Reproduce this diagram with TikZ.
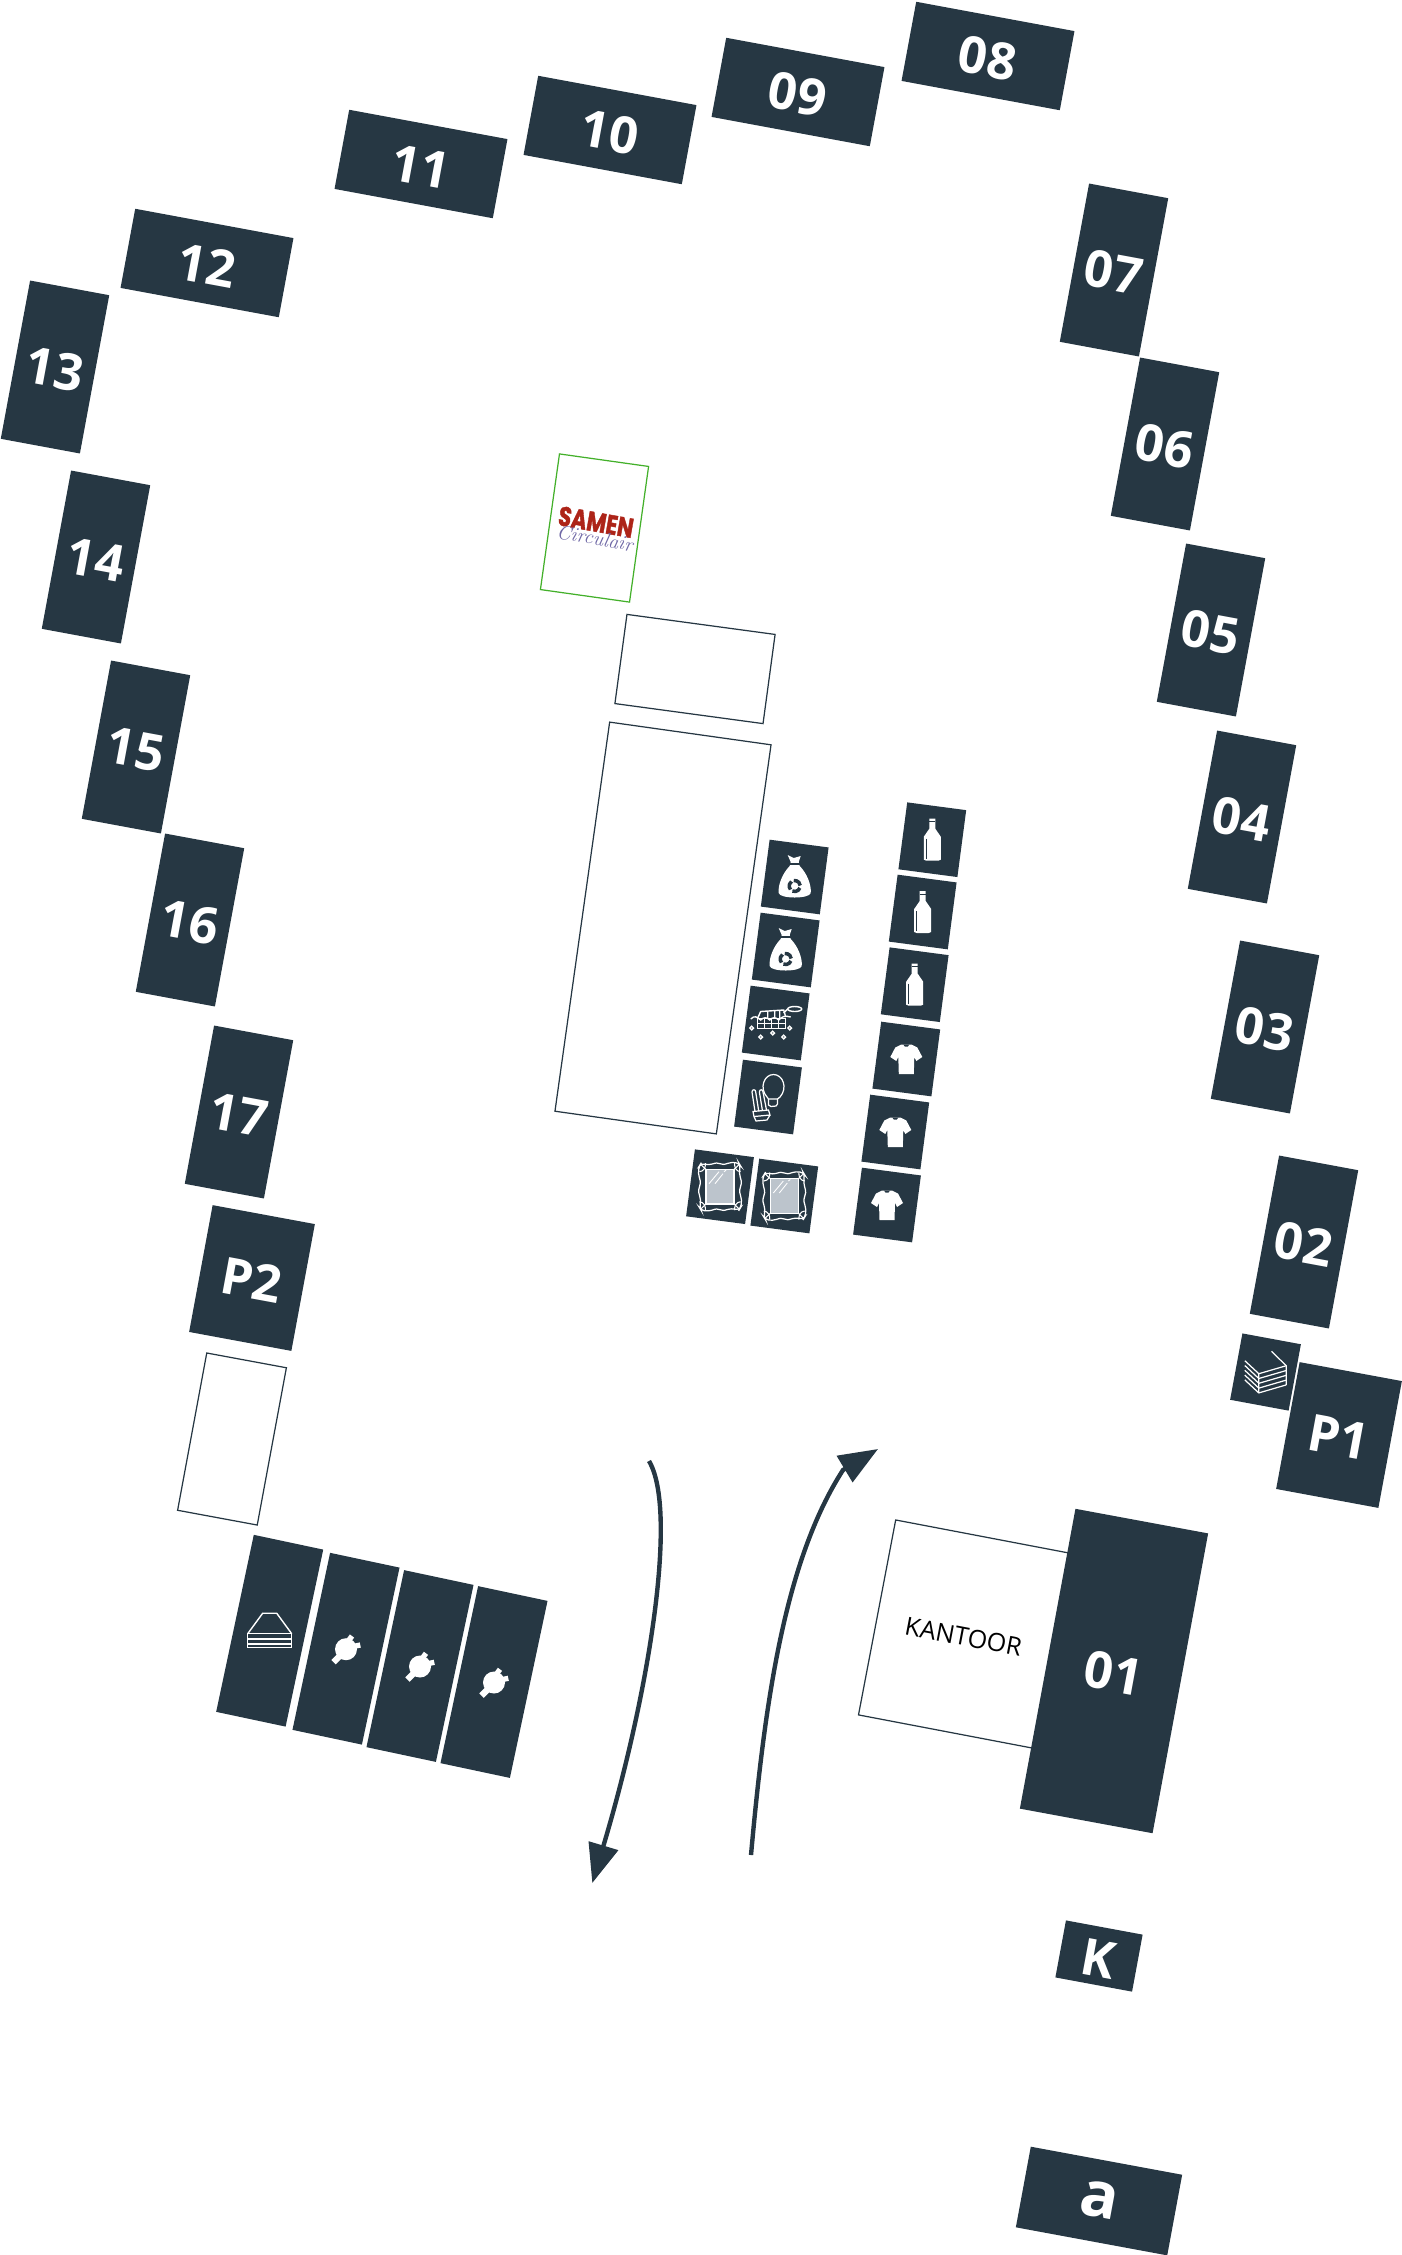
\documentclass[tikz,border=0pt]{standalone}
\usepackage{fontspec}
\newfontfamily\stallfont{Open Sans}
\newfontfamily\logofont{Poppins}[BoldFeatures={FakeBold=1.6}]
\usetikzlibrary{arrows.meta}
\definecolor{stallBlue}{HTML}{263743}
\definecolor{logoRed}{HTML}{AD2418}
\definecolor{logoBlue}{HTML}{6F68A6}
\definecolor{logoGreen}{HTML}{43B02A}
\definecolor{mirrorGray}{HTML}{BCC4CC}
\tikzset{
	stallH/.style={fill=stallBlue, text=white, rotate=-10.5, inner sep=0pt, minimum width=3.22cm, minimum height=1.61cm, text height=0.83cm, font=\stallfont\bfseries\fontsize{29}{29}\selectfont},
	stallV/.style={stallH, minimum width=1.61cm, minimum height=3.22cm},
	stallP/.style={stallH, minimum width=2.08cm, minimum height=2.58cm},
	stallTall/.style={fill=stallBlue, rotate=-12, inner sep=0pt, minimum width=1.42cm, minimum height=3.62cm},
	iconBox/.style={fill=stallBlue, rotate=-7.5, inner sep=0pt, minimum width=1.19cm, minimum height=1.35cm},
	emptyBox/.style={draw=stallBlue, fill=white, line width=0.7pt, inner sep=0pt},
	flowArrow/.style={stallBlue, line width=2.5pt, -{Triangle[length=0.78cm, width=0.6cm]}}
}
\tikzset{
	bottleIcon/.pic={
		\fill[white] (-3,-21) -- (3,-21) -- (3,-11) -- (8.5,-3) -- (8.5,20) -- (6,21) -- (-6,21) -- (-8.5,20) -- (-8.5,-3) -- (-3,-11) -- cycle;
		\draw[stallBlue, line width=0.5pt] (-6,-1) -- (-6,19);
		\draw[stallBlue, line width=0.5pt] (-3,-18) -- (3,-18);
	}
}
\tikzset{
	shirtIcon/.pic={
		\fill[white] (-5,-14.5) -- (5,-14.5) -- (11,-11.5) -- (16,-2) -- (10,2) -- (8,-2) -- (7.5,15) -- (-7.5,15) -- (-8,-2) -- (-10,2) -- (-16,-2) -- (-11,-11.5) -- cycle;
		\fill[stallBlue] (-3,-14.5) -- (3,-14.5) -- (1.5,-12.5) -- (-1.5,-12.5) -- cycle;
	}
}
\tikzset{
	bagIcon/.pic={
		\fill[white] (-7,-22) -- (-1,-19) -- (6,-21) -- (4,-15) -- (5,-11) .. controls (12,-4) and (17,8) .. (16,16) .. controls (15,22) and (-15,22) .. (-16,16) .. controls (-17,8) and (-12,-4) .. (-5,-11) -- (-4,-15) -- cycle;
		\draw[stallBlue, line width=0.6pt] (-5,-13) -- (5,-13);
		\foreach \a in {20,140,260}{
			\draw[stallBlue, line width=2pt] ({5.5*cos(\a)},{9+5.5*sin(\a)}) arc[start angle=\a, end angle=\a+95, radius=5.5];
		}
	}
}
\tikzset{
	mirrorIcon/.pic={
		\fill[mirrorGray] (-14,-17.3) rectangle (14,17.3);
		\draw[white, line width=0.7pt] (-14,-17.3) rectangle (14,17.3);
		\draw[white, line width=0.7pt, rounded corners=2pt] (-19,-23.5) .. controls (-10,-21) and (-5,-24) .. (0,-23) .. controls (5,-22) and (10,-25) .. (19,-23.5) -- (20.5,-21) .. controls (18.5,-12) and (22,-6) .. (20.5,0) .. controls (19,6) and (22.5,12) .. (20.5,21) -- (19,23.5) .. controls (10,21) and (5,24) .. (0,23) .. controls (-5,22) and (-10,25) .. (-19,23.5) -- (-20.5,21) .. controls (-18.5,12) and (-22,6) .. (-20.5,0) .. controls (-19,-6) and (-22.5,-12) .. (-20.5,-21) -- cycle;
		\foreach \p/\q in {-1/-1,1/-1,1/1,-1/1}{
			\draw[white, line width=0.6pt] ({\p*14},{\q*17.3}) -- ({\p*19.5},{\q*22.5});
			\draw[white, line width=0.6pt] ({\p*20.5},{\q*15}) .. controls ({\p*16},{\q*15.5}) and ({\p*14.5},{\q*19}) .. ({\p*14.5},{\q*23.5});
		}
		\draw[white, line width=0.5pt] (-11,-3) -- (-1,-15) (-5,-3) -- (3,-13) (4,-15) -- (6,-16.5);
	}
}
\tikzset{
	fryerIcon/.pic={
		\draw[white, line width=0.8pt] (-18,-4.7) rectangle (10,5.3) (-18,0.3) -- (10,0.3) (-11,-4.7) -- (-11,5.3) (-4,-4.7) -- (-4,5.3) (3,-4.7) -- (3,5.3);
		\draw[white, line width=0.8pt] (-25,-4) .. controls (-21,-8) and (-19,-6) .. (-15,-3) .. controls (-12,-6) and (-9,-6) .. (-6,-3) .. controls (-3,-6) and (0,-6) .. (3,-3) .. controls (6,-6) and (9,-8) .. (15,-6);
		\draw[white, line width=0.8pt] (-18,-5) -- (-15,-11.5) -- (8,-13) -- (10,-6) (-8,-11.5) -- (-8,-5) (-1,-12) -- (-1,-5) (4,-12.5) -- (4,-5);
		\draw[white, line width=0.8pt] (8,-10) -- (12,-14);
		\draw[white, line width=0.8pt] (19,-14) ellipse (7 and 2.5);
		\foreach \p/\q in {-24/5,14/5,-15/14,-3/10,8/14}{
			\draw[white, line width=0.8pt] (\p,\q) circle (1.8);
		}
	}
}
\tikzset{
	bulbIcon/.pic={
		\draw[white, line width=0.7pt] (-1,0) .. controls (-9,-9) and (-4,-22.5) .. (5.5,-22.5) .. controls (15,-22.5) and (20,-9) .. (12,0) -- (9.5,2) -- (0.5,2) -- cycle;
		\draw[white, line width=0.7pt] (0.5,2) -- (0.5,8) -- (3,9.5) -- (8,9) -- (9.5,7) -- (9.5,2);
		\draw[white, line width=0.7pt] (-16,-5) .. controls (-16,-8) and (-12.3,-8) .. (-12.3,-5) -- (-9.3,14);
		\draw[white, line width=0.7pt] (-8.6,-5) .. controls (-8.6,-8) and (-5,-8) .. (-5,-5) -- (-1.5,13);
		\draw[white, line width=0.7pt] (-16,-5) -- (-13,14.5) (-8.6,-5) -- (-5.6,13.5);
		\draw[white, line width=0.7pt] (-15,14.5) -- (0.5,13) -- (2,18) -- (-14,19.5) -- cycle;
		\draw[white, line width=0.7pt] (-14,19.5) -- (-12,24) -- (-1,23) -- (2,18);
	}
}
\tikzset{
	plugIcon/.pic={
		\fill[white] (0,0.5) circle (11);
		\draw[white, line width=3pt] (1,-6) -- (6,-12.7) (6,-2) -- (14.3,-3.7);
		\draw[white, line width=3.6pt] (-6,7) -- (-12.5,13.5);
	}
}
\tikzset{
	mattressIcon/.pic={
		\draw[white, line width=0.8pt] (-22,3) -- (-7,-17.5) -- (7,-17.5) -- (22,3);
		\draw[white, line width=0.8pt] (-22,3) rectangle (22,17);
		\draw[white, line width=1.2pt] (-22,8) -- (22,8) (-22,13) -- (22,13);
	}
}
\tikzset{
	stackIcon/.pic={
		\foreach \d in {0,4.8,9.6,14.4,19.2}{
			\draw[white, line width=0.7pt] (-20.7,-11.3+\d) -- (-6.7,1.7+\d) -- (20.7,-6.3+\d);
		}
		\draw[white, line width=0.7pt] (6,-20.7) -- (20.7,-6.3) -- (20.7,12.9) (-6.7,1.7) -- (-6.7,20.9);
	}
}

\begin{document}
\begin{tikzpicture}[x=0.02cm, y=-0.02cm]
	\useasboundingbox (0,0) rectangle (1402,2255);

	% kraampjes rondom
	\node[stallH] (stall08) at (988,56) {08};
	\node[stallH] (stall09) at (798,92) {09};
	\node[stallH] (stall10) at (610,130) {10};
	\node[stallH] (stall11) at (421,164) {11};
	\node[stallH] (stall12) at (207,263) {12};
	\node[stallV] (stall13) at (55,367) {13};
	\node[stallV] (stall14) at (96,557) {14};
	\node[stallV] (stall15) at (136,747) {15};
	\node[stallV] (stall16) at (190,920) {16};
	\node[stallV] (stall17) at (239,1112) {17};
	\node[stallP] (stallP2) at (252,1278) {P2};
	\node[emptyBox, rotate=-10.5, minimum width=1.62cm, minimum height=3.2cm] (spare) at (232,1439) {};
	\node[stallV] (stall07) at (1114,270) {07};
	\node[stallV] (stall06) at (1165,444) {06};
	\node[stallV] (stall05) at (1211,630) {05};
	\node[stallV] (stall04) at (1242,817) {04};
	\node[stallV] (stall03) at (1265,1027) {03};
	\node[stallV] (stall02) at (1304,1242) {02};
	\node[stallP] (stallP1) at (1339,1435) {P1};

	% kantoor
	\node[emptyBox, rotate=-10.8, minimum width=3.54cm, minimum height=3.97cm, text height=0.47cm, font=\stallfont\fontsize{14.3}{14.3}\selectfont] (office) at (964,1634) {KANTOOR};
	\node[stallH, minimum width=2.7cm, minimum height=6.1cm] (stall01) at (1114,1671) {01};
	\node[stallH, minimum width=1.56cm, minimum height=1.16cm] (stallK) at (1099,1956) {K};
	\node[stallH, minimum width=3.08cm, minimum height=1.64cm, text height=0.66cm, font=\stallfont\bfseries\fontsize{36}{36}\selectfont] (stallA) at (1099,2201) {a};

	% midden
	\node[draw=logoGreen, fill=white, line width=0.7pt, rotate=-8, inner sep=0pt, minimum width=1.8cm, minimum height=2.74cm] (logoBox) at (594.5,528) {};
	\node[rotate=-10, inner sep=0pt, text=logoRed, font=\logofont\bfseries\fontsize{15.5}{15.5}\selectfont] (logoTop) at (596,522) {\scalebox{0.78}[1]{SAMEN}};
	\node[rotate=-10, inner sep=0pt, text=logoBlue, font=\itshape\fontsize{11.5}{11.5}\selectfont] (logoBottom) at (595,538) {Circulair};
	\node[emptyBox, rotate=-7.7, minimum width=2.99cm, minimum height=1.8cm] (tableTop) at (695,669) {};
	\node[emptyBox, rotate=-8, minimum width=3.26cm, minimum height=7.86cm] (tableMain) at (663,928) {};

	% iconen
	\node[iconBox] (bottleA) at (932.3,839.7) {};
	\node[iconBox] (bottleB) at (922.7,912) {};
	\node[iconBox] (bottleC) at (914.7,984.7) {};
	\node[iconBox] (shirtA) at (906.3,1059) {};
	\node[iconBox] (shirtB) at (895.3,1132) {};
	\node[iconBox] (shirtC) at (887,1205) {};
	\node[iconBox] (bagA) at (794.7,877) {};
	\node[iconBox] (bagB) at (785.7,950) {};
	\node[iconBox] (fryer) at (775.7,1023) {};
	\node[iconBox] (bulbs) at (768,1097) {};
	\node[iconBox] (mirrorA) at (720,1186.7) {};
	\node[iconBox] (mirrorB) at (784.3,1196) {};
	\node[iconBox, rotate=-3] (stack) at (1265.5,1372) {};
	\pic at (bottleA) {bottleIcon};
	\pic at (bottleB) {bottleIcon};
	\pic at (bottleC) {bottleIcon};
	\pic at (shirtA) {shirtIcon};
	\pic at (shirtB) {shirtIcon};
	\pic at (shirtC) {shirtIcon};
	\pic at (bagA) {bagIcon};
	\pic at (bagB) {bagIcon};
	\pic at (fryer) {fryerIcon};
	\pic at (bulbs) {bulbIcon};
	\pic at (mirrorA) {mirrorIcon};
	\pic at (mirrorB) {mirrorIcon};
	\pic at (stack) {stackIcon};

	% onderaan
	\node[stallTall] (powerA) at (269.7,1630.7) {};
	\node[stallTall] (powerB) at (346,1648.7) {};
	\node[stallTall] (powerC) at (420,1666) {};
	\node[stallTall] (powerD) at (494,1682) {};
	\pic at (powerA) {mattressIcon};
	\pic at (powerB) {plugIcon};
	\pic at (powerC) {plugIcon};
	\pic at (powerD) {plugIcon};

	% rijrichting
	\coordinate (flowInStart) at (649,1461);
	\coordinate (flowInEnd) at (592.3,1883);
	\coordinate (flowOutStart) at (751,1855);
	\coordinate (flowOutBend) at (843,1470);
	\coordinate (flowOutEnd) at (878,1449);
	\draw[flowArrow] (flowInStart) .. controls (678,1510) and (650,1690) .. (flowInEnd);
	\draw[flowArrow] (flowOutStart) .. controls (765,1700) and (785,1560) .. (flowOutBend) -- (flowOutEnd);
\end{tikzpicture}
\end{document}
